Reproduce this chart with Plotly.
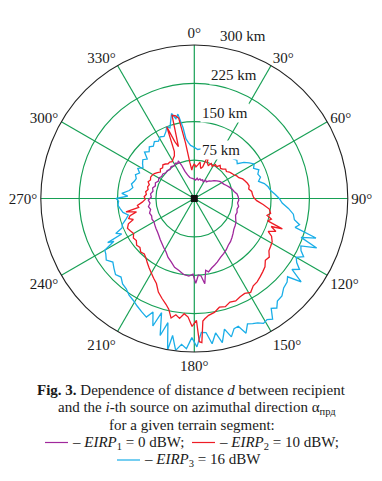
import plotly.graph_objects as go

W, H = 382, 481

# ---------------- data ----------------
angle_ticks = [0, 30, 60, 90, 120, 150, 180, 210, 240, 270, 300, 330]
angle_labels = [f"{a}°" for a in angle_ticks]
radial_ticks = [75, 150, 225, 300]
radial_labels = ["75 km", "150 km", "225 km", "300 km"]

# EIRP3 = 16 dBW (blue)
theta_eirp3 = [0, 4, 8, 12, 16, 20, 25, 30, 35, 40, 45, 48, 51, 54, 57, 60, 63, 66, 69, 72,
               75, 78, 81, 84, 87, 90, 93, 96, 99, 102, 104, 106, 108, 110, 112, 114, 116, 118, 120, 122,
               124, 126, 128, 130, 132, 135, 138, 141, 143, 145, 147, 149, 151, 153, 155, 157, 159, 161, 163, 165,
               167, 169, 171, 173, 175, 177, 179, 181, 183, 185, 187, 189, 190, 192, 194, 196, 198, 200, 202, 205,
               208, 211, 214, 217, 220, 223, 226, 229, 232, 235, 238, 240, 242, 243, 244, 246, 248, 250, 253, 256,
               259, 262, 265, 268, 270, 272, 274, 277, 280, 283, 286, 289, 292, 295, 298, 301, 304, 307, 310, 313,
               316, 319, 322, 325, 328, 331, 334, 337, 339, 341, 343, 345, 347, 349, 351, 352, 354, 356, 358, 360]
r_eirp3 = [100, 96, 98, 100, 101, 102, 104, 105, 106, 107, 109, 112, 108, 120, 128, 135, 130, 138, 133, 136,
           130, 140, 146, 150, 158, 166, 172, 185, 196, 200, 212, 205, 250, 222, 258, 228, 232, 242, 230, 236,
           248, 236, 265, 238, 244, 247, 256, 258, 268, 262, 281, 276, 279, 273, 270, 266, 282, 264, 266, 280,
           262, 287, 266, 286, 263, 262, 290, 272, 294, 286, 299, 271, 301, 248, 276, 232, 262, 236, 250, 244,
           238, 232, 228, 221, 218, 210, 214, 208, 202, 210, 204, 202, 178, 190, 158, 168, 152, 150, 140, 133,
           142, 146, 150, 148, 153, 130, 142, 128, 122, 126, 122, 120, 124, 118, 125, 117, 122, 126, 120, 133,
           127, 134, 130, 136, 132, 138, 135, 142, 150, 146, 158, 172, 160, 168, 140, 118, 110, 104, 102, 100]

# EIRP2 = 10 dBW (red)
theta_eirp2 = [0, 3, 6, 9, 12, 15, 18, 20, 23, 26, 29, 32, 35, 38, 41, 44, 47, 50, 53, 56,
               59, 62, 65, 68, 71, 74, 77, 80, 83, 86, 89, 92, 95, 98, 101, 103, 105, 107, 109, 110,
               112, 114, 116, 119, 122, 125, 128, 131, 134, 137, 140, 143, 146, 149, 152, 155, 158, 161, 164, 167,
               170, 173, 175, 176, 177, 178, 179, 181, 183, 185, 187, 189, 191, 193, 195, 198, 201, 204, 207, 210,
               213, 216, 219, 222, 225, 228, 231, 234, 237, 240, 243, 246, 249, 251, 253, 255, 257, 259, 261, 263,
               266, 269, 272, 275, 278, 281, 284, 287, 290, 293, 296, 299, 302, 305, 308, 311, 314, 317, 320, 323,
               326, 329, 332, 335, 337, 339, 341, 343, 345, 347, 349, 351, 353, 355, 357, 360]
r_eirp2 = [68, 62, 66, 72, 60, 64, 92, 74, 70, 76, 72, 78, 76, 82, 78, 80, 84, 82, 86, 88,
           90, 94, 96, 102, 105, 108, 110, 108, 113, 114, 116, 122, 135, 148, 152, 146, 156, 150, 182, 160,
           172, 158, 168, 174, 176, 178, 186, 184, 192, 196, 200, 204, 206, 214, 210, 212, 216, 214, 220, 218,
           226, 230, 236, 240, 282, 280, 238, 250, 232, 226, 236, 230, 238, 222, 214, 205, 196, 182, 175, 168,
           162, 156, 150, 146, 148, 143, 145, 140, 142, 137, 140, 143, 138, 126, 134, 130, 116, 136, 110, 112,
           102, 96, 98, 94, 96, 92, 94, 92, 96, 93, 95, 94, 92, 88, 84, 88, 86, 90, 88, 85,
           86, 84, 88, 92, 100, 150, 118, 106, 168, 166, 160, 110, 70, 56, 62, 68]

# EIRP1 = 0 dBW (purple)
theta_eirp1 = [0, 4, 8, 12, 16, 20, 24, 28, 32, 36, 40, 44, 48, 52, 56, 60, 64, 68, 72, 76,
               80, 84, 88, 92, 96, 100, 104, 108, 112, 116, 120, 124, 128, 132, 136, 140, 144, 148, 152, 156,
               160, 163, 166, 169, 171, 173, 175, 177, 179, 181, 184, 188, 192, 196, 200, 204, 208, 212, 216, 220,
               224, 228, 232, 236, 240, 244, 248, 252, 256, 260, 264, 268, 272, 276, 280, 284, 288, 292, 296, 300,
               304, 308, 312, 316, 320, 324, 328, 332, 335, 337, 339, 341, 344, 348, 352, 356, 360]
r_eirp1 = [38, 36, 40, 37, 40, 38, 40, 37, 42, 40, 45, 47, 52, 56, 60, 62, 64, 68, 72, 76,
           79, 84, 86, 87, 85, 88, 86, 88, 87, 90, 94, 96, 98, 102, 106, 110, 113, 118, 122, 126,
           132, 136, 140, 146, 142, 168, 152, 150, 166, 148, 152, 150, 144, 140, 132, 126, 118, 113, 108, 104,
           100, 97, 95, 93, 91, 92, 90, 92, 88, 91, 87, 90, 84, 86, 82, 84, 80, 82, 78, 80,
           77, 78, 75, 76, 74, 77, 75, 78, 76, 80, 70, 56, 48, 42, 40, 39, 38]

source_theta = [0]
source_r = [0]

# ---------------- style ----------------
FONT = "Liberation Serif, Times New Roman, serif"
GREEN = "#17a055"
C1, C2, C3 = "#a0289c", "#ee1c25", "#1aaee8"
TXT = "#1a1a1a"

# polar geometry in pixels
cx, cy, R = 194.3, 198.5, 153.5

fig = go.Figure()
fig.add_trace(go.Scatterpolar(theta=theta_eirp3, r=r_eirp3, mode="lines",
                              line=dict(color=C3, width=1.3), hoverinfo="skip"))
fig.add_trace(go.Scatterpolar(theta=theta_eirp2, r=r_eirp2, mode="lines",
                              line=dict(color=C2, width=1.3), hoverinfo="skip"))
fig.add_trace(go.Scatterpolar(theta=theta_eirp1, r=r_eirp1, mode="lines",
                              line=dict(color=C1, width=1.3), hoverinfo="skip"))
fig.add_trace(go.Scatterpolar(theta=source_theta, r=source_r, mode="markers",
                              marker=dict(symbol="square", size=7, color="#111"), hoverinfo="skip"))

fig.update_layout(
    width=W, height=H,
    margin=dict(l=0, r=0, t=0, b=0),
    paper_bgcolor="white",
    showlegend=False,
    font=dict(family=FONT, size=15, color=TXT),
    polar=dict(
        domain=dict(x=[(cx - R) / W, (cx + R) / W], y=[1 - (cy + R) / H, 1 - (cy - R) / H]),
        bgcolor="white",
        angularaxis=dict(
            rotation=90, direction="clockwise",
            tickmode="array", tickvals=angle_ticks, ticktext=angle_labels,
            ticks="", showline=True, linecolor="#222", linewidth=1.1,
            showgrid=True, gridcolor=GREEN, gridwidth=1.2,
            tickfont=dict(family=FONT, size=15, color=TXT),
        ),
        radialaxis=dict(
            range=[0, 300], tickmode="array", tickvals=radial_ticks[:-1],
            showticklabels=False, ticks="", showline=False,
            showgrid=True, gridcolor=GREEN, gridwidth=1.2,
        ),
    ),
)

# radial distance labels (white boxes, as in the original)
label_pos = [(220.5, 150), (224.5, 112.5), (234, 75), (243, 36)]
for (px, py), txt in zip(label_pos, radial_labels):
    fig.add_annotation(x=px / W, y=1 - py / H, xref="paper", yref="paper",
                       text=txt, showarrow=False, bgcolor="white", borderpad=1,
                       font=dict(family=FONT, size=15, color=TXT),
                       xanchor="center", yanchor="middle")

# caption
caption = [
    ("<b>Fig. 3.</b> Dependence of distance <i>d</i> between recipient", 191.5, 390),
    ("and the <i>i</i>-th source on azimuthal direction α<sub>прд</sub>", 196.5, 408),
    ("for a given terrain segment:", 192, 424.5),
]
for txt, px, py in caption:
    fig.add_annotation(x=px / W, y=1 - py / H, xref="paper", yref="paper",
                       text=txt, showarrow=False, xanchor="center", yanchor="middle",
                       font=dict(family=FONT, size=15, color=TXT))

legend_items = [
    (C1, 45, 68, 442.5, "– <i>EIRP</i><sub>1</sub> = 0 dBW;"),
    (C2, 192, 215, 442.5, "– <i>EIRP</i><sub>2</sub> = 10 dBW;"),
    (C3, 117, 140, 460, "– <i>EIRP</i><sub>3</sub> = 16 dBW"),
]
for col, x0, x1, py, txt in legend_items:
    fig.add_shape(type="line", xref="paper", yref="paper",
                  x0=x0 / W, x1=x1 / W, y0=1 - py / H, y1=1 - py / H,
                  line=dict(color=col, width=1.2))
    fig.add_annotation(x=(x1 + 2) / W, y=1 - py / H, xref="paper", yref="paper",
                       text=txt, showarrow=False, xanchor="left", yanchor="middle",
                       font=dict(family=FONT, size=15, color=TXT))

fig.write_html("out.html",
               config={"displayModeBar": False, "staticPlot": True},
               post_script="document.body.style.margin='0px';document.body.style.padding='0px';")
